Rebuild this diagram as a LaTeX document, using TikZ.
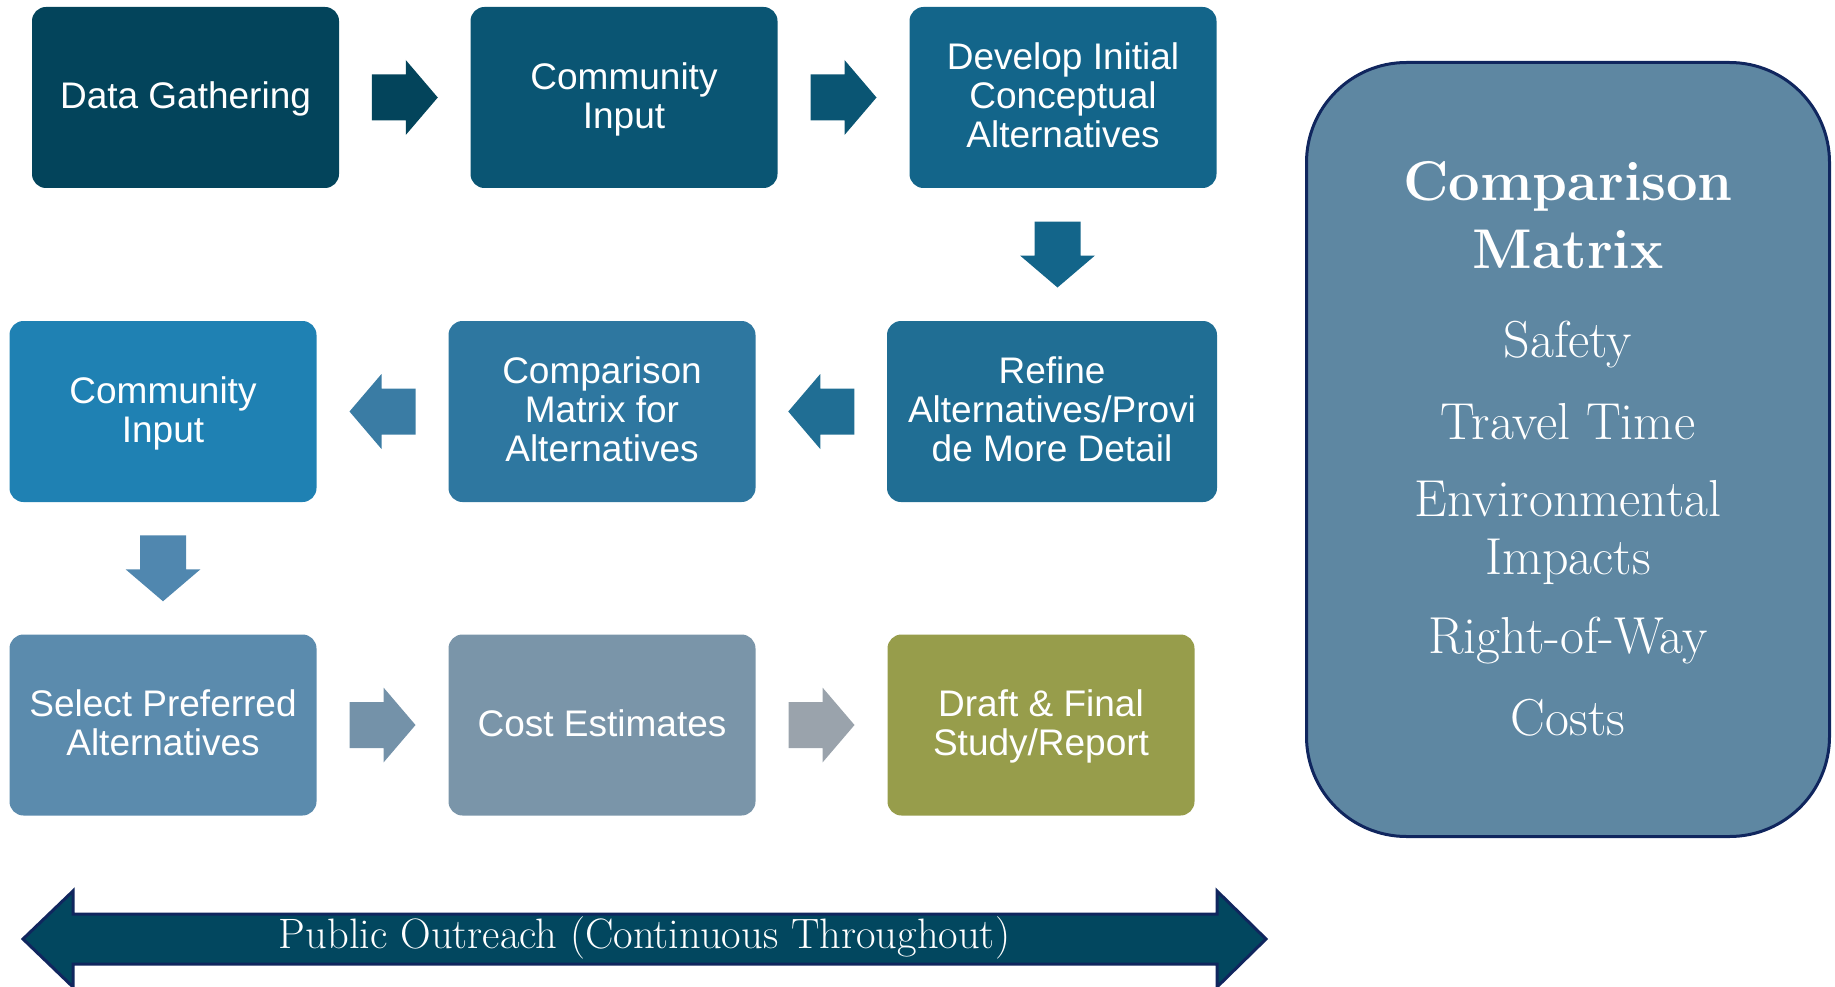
\documentclass[tikz,border=0pt]{standalone}
\usepackage{fontspec}
\setsansfont{Liberation Sans}
\usetikzlibrary{calc}

\definecolor{gatherblue}{HTML}{03445B}
\definecolor{inputblue}{HTML}{0A5573}
\definecolor{developblue}{HTML}{13658A}
\definecolor{refineblue}{HTML}{206E94}
\definecolor{compareblue}{HTML}{2E77A0}
\definecolor{secondblue}{HTML}{1F81B3}
\definecolor{selectblue}{HTML}{5B8BAD}
\definecolor{costgrey}{HTML}{7A95A9}
\definecolor{draftgreen}{HTML}{979D4B}
\definecolor{arrowcompare}{HTML}{3A7CA4}
\definecolor{arrowdown}{HTML}{5087AF}
\definecolor{arrowselect}{HTML}{7492A9}
\definecolor{arrowcost}{HTML}{9AA3AC}
\definecolor{matrixblue}{HTML}{5E87A2}
\definecolor{navyline}{HTML}{10265E}
\definecolor{outreachblue}{HTML}{02475F}

\tikzset{
	stepbox/.style={rectangle, rounded corners=14pt, minimum width=307pt, minimum height=181pt,
		inner sep=0pt, text depth=4pt, text=white, align=center, font=\sffamily\fontsize{37}{39}\selectfont},
	matrixbox/.style={rectangle, rounded corners=100pt, minimum width=523pt, minimum height=774pt,
		fill=matrixblue, draw=navyline, line width=3pt},
	matrixtext/.style={text=white, align=center, inner sep=0pt, font=\rmfamily\fontsize{52}{58}\selectfont},
}

% block arrow half way between two points, turned by #2
\newcommand{\blockarrow}[4]{%
	\fill[#1, shift={($#3!0.5!#4$)}, rotate=#2]
		(-33,-23) -- (1,-23) -- (1,-37.5) -- (33,0) -- (1,37.5) -- (1,23) -- (-33,23) -- cycle;}

\begin{document}
\begin{tikzpicture}[x=1pt,y=-1pt]
	\useasboundingbox (0,0) rectangle (1835,987);

	% first row
	\node[stepbox, fill=gatherblue] (gather) at (185.5,97.5) {Data Gathering};
	\node[stepbox, fill=inputblue] (input) at (624,97.5) {Community\\Input};
	\node[stepbox, fill=developblue] (develop) at (1063,97.5) {Develop Initial\\Conceptual\\Alternatives};

	% second row
	\node[stepbox, fill=refineblue, minimum width=330pt] (refine) at (1052,411.5) {Refine\\Alternatives/Provi\\de More Detail};
	\node[stepbox, fill=compareblue] (compare) at (602,411.5) {Comparison\\Matrix for\\Alternatives};
	\node[stepbox, fill=secondblue] (second) at (163,411.5) {Community\\Input};

	% third row
	\node[stepbox, fill=selectblue] (select) at (163,725) {Select Preferred\\Alternatives};
	\node[stepbox, fill=costgrey] (cost) at (602,725) {Cost Estimates};
	\node[stepbox, fill=draftgreen] (draft) at (1041,725) {Draft \& Final\\Study/Report};

	% arrows
	\blockarrow{gatherblue}{0}{(gather.east)}{(input.west)}
	\blockarrow{inputblue}{0}{(input.east)}{(develop.west)}
	\blockarrow{developblue}{-90}{(develop.south)}{(refine.north)}
	\blockarrow{refineblue}{180}{(refine.west)}{(compare.east)}
	\blockarrow{arrowcompare}{180}{(compare.west)}{(second.east)}
	\blockarrow{arrowdown}{-90}{(second.south)}{(select.north)}
	\blockarrow{arrowselect}{0}{(select.east)}{(cost.west)}
	\blockarrow{arrowcost}{0}{(cost.east)}{(draft.west)}

	% comparison matrix
	\node[matrixbox] (matrix) at (1568,449.5) {};
	\node[matrixtext, font=\rmfamily\bfseries\fontsize{56}{68}\selectfont] (title) at (1568,215) {Comparison\\Matrix};
	\foreach \name/\txt/\y in {safety/Safety/345, travel/Travel Time/422,
		environment/{Environmental\\Impacts}/533, row/Right-of-Way/641, costs/Costs/718}
		\node[matrixtext] (\name) at (1568,\y) {\txt};

	% public outreach
	\draw[fill=outreachblue, draw=navyline, line width=3pt, line join=miter]
		(23,939) -- (73,891) -- (73,914) -- (1217,914) -- (1217,891) -- (1266,939)
		-- (1217,987) -- (1217,964) -- (73,964) -- (73,987) -- cycle;
	\node[text=white, font=\rmfamily\fontsize{42.5}{50}\selectfont] (outreach) at (644.5,938) {Public Outreach (Continuous Throughout)};
\end{tikzpicture}
\end{document}
